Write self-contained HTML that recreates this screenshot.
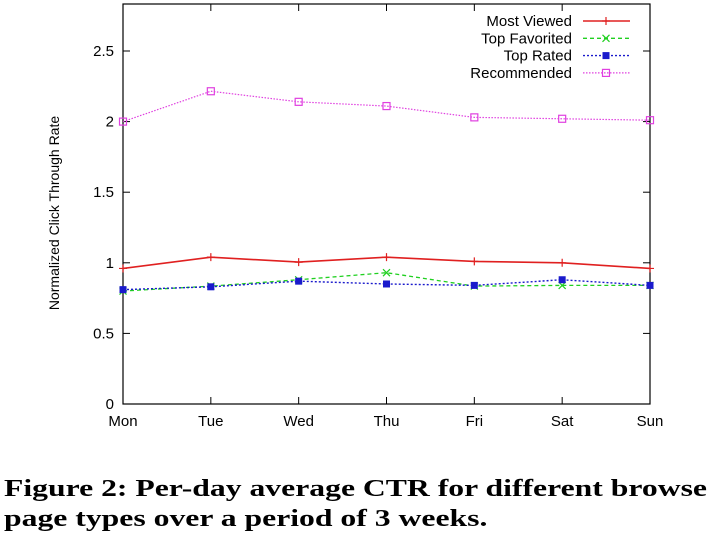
<!DOCTYPE html>
<html><head><meta charset="utf-8"><style>
body{margin:0;background:#fff;width:720px;height:541px;overflow:hidden}
svg{display:block}
.cap{position:absolute;left:4px;top:474px;font:bold 24px "Liberation Serif",serif;line-height:30px;color:#000;white-space:nowrap;transform-origin:0 0;transform:scaleX(1.32)}
</style></head><body>
<svg id="chart" width="720" height="470" xmlns="http://www.w3.org/2000/svg" style="position:absolute;left:0;top:0"></svg>
<div class="cap">Figure 2: Per-day average CTR for different browse<br>page types over a period of 3 weeks.</div>
<script>
const categories=["Mon","Tue","Wed","Thu","Fri","Sat","Sun"];
const yTicks=[0,0.5,1,1.5,2,2.5];
const yTickLabels=["0","0.5","1","1.5","2","2.5"];
const mostViewed=[0.96,1.04,1.005,1.04,1.01,1.0,0.96];
const topFavorited=[0.80,0.835,0.88,0.93,0.835,0.84,0.84];
const topRated=[0.81,0.83,0.87,0.85,0.84,0.88,0.84];
const recommended=[2.0,2.215,2.14,2.11,2.03,2.02,2.01];
const seriesNames=["Most Viewed","Top Favorited","Top Rated","Recommended"];

const NS="http://www.w3.org/2000/svg";
const svg=document.getElementById('chart');
const L=123,R=650,T=4,B=404,YMAX=(B-T)/141.2;
const x=i=>L+i*(R-L)/(categories.length-1);
const y=v=>B-(v/YMAX)*(B-T);
function mk(tag,attrs,parent){const e=document.createElementNS(NS,tag);for(const k in attrs)e.setAttribute(k,attrs[k]);(parent||svg).appendChild(e);return e;}
const frame=mk('rect',{x:L,y:T,width:R-L,height:B-T,fill:'none',stroke:'#000','stroke-width':1.2});


yTicks.forEach((v,i)=>{
  const yy=y(v);
  mk('line',{x1:L,x2:L+7,y1:yy,y2:yy,stroke:'#000'});
  mk('line',{x1:R,x2:R-7,y1:yy,y2:yy,stroke:'#000'});
  const t=mk('text',{x:L-9,y:yy+5,'text-anchor':'end','font-family':'Liberation Sans, sans-serif','font-size':15});
  t.textContent=yTickLabels[i];
  
  
});
categories.forEach((c,i)=>{
  const xx=x(i);
  mk('line',{x1:xx,x2:xx,y1:B,y2:B-7,stroke:'#000'});
  mk('line',{x1:xx,x2:xx,y1:T,y2:T+7,stroke:'#000'});
  const t=mk('text',{x:xx,y:B+22,'text-anchor':'middle','font-family':'Liberation Sans, sans-serif','font-size':15});
  t.textContent=c;
  
  
});
const yt=mk('text',{x:0,y:0,transform:'translate(59,213) rotate(-90)','text-anchor':'middle','font-family':'Liberation Sans, sans-serif','font-size':14});
yt.textContent='Normalized Click Through Rate';



function marker(type,cx,cy,color,g){
  if(type==='plus'){mk('path',{d:`M${cx-4} ${cy}H${cx+4}M${cx} ${cy-4}V${cy+4}`,stroke:color,'stroke-width':1.2,fill:'none'},g);}
  else if(type==='x'){mk('path',{d:`M${cx-3.5} ${cy-3.5}L${cx+3.5} ${cy+3.5}M${cx-3.5} ${cy+3.5}L${cx+3.5} ${cy-3.5}`,stroke:color,'stroke-width':1.2,fill:'none'},g);}
  else if(type==='sq'){mk('rect',{x:cx-3.5,y:cy-3.5,width:7,height:7,fill:color},g);}
  else {mk('rect',{x:cx-3.5,y:cy-3.5,width:7,height:7,fill:'none',stroke:color,'stroke-width':1.2},g);}
}
const series=[
  {name:'most-viewed',data:mostViewed,color:'#e02020',dash:'',m:'plus',w:1.6},
  {name:'top-favorited',data:topFavorited,color:'#20d020',dash:'4,3',m:'x',w:1.3},
  {name:'top-rated',data:topRated,color:'#1a1acc',dash:'2,2',m:'sq',w:1.4},
  {name:'recommended',data:recommended,color:'#e040e0',dash:'1.5,1.5',m:'osq',w:1.2}
];
series.forEach((s,si)=>{
  const g=mk('g',{});
  
  
  const pts=s.data.map((v,i)=>x(i)+','+y(v)).join(' ');
  mk('polyline',{points:pts,fill:'none',stroke:s.color,'stroke-width':s.w,'stroke-dasharray':s.dash},g);
  s.data.forEach((v,i)=>marker(s.m,x(i),y(v),s.color,g));
  const ly=21+si*17.3;
  const lg=mk('g',{});
  
  
  const t=mk('text',{x:572,y:ly+5,'text-anchor':'end','font-family':'Liberation Sans, sans-serif','font-size':15},lg);
  t.textContent=seriesNames[si];
  mk('line',{x1:583,x2:630,y1:ly,y2:ly,stroke:s.color,'stroke-width':s.w,'stroke-dasharray':s.dash},lg);
  marker(s.m,606,ly,s.color,lg);
});
</script>
</body></html>
